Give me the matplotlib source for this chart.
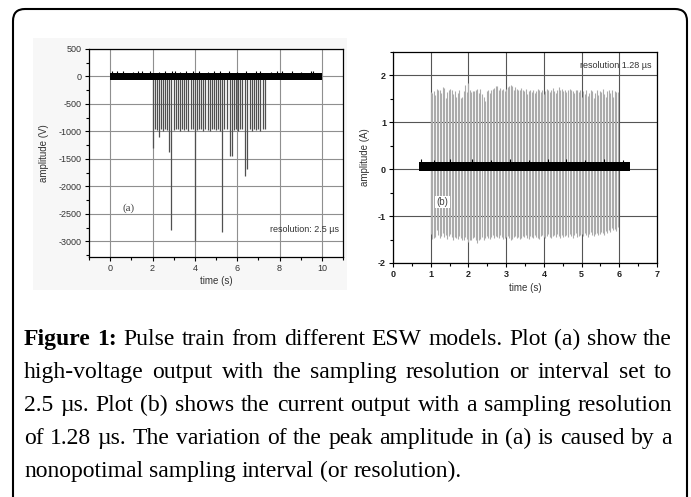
import numpy as np
import matplotlib.pyplot as plt
from matplotlib.patches import FancyBboxPatch, Rectangle
from matplotlib.ticker import MultipleLocator

plt.rcParams['axes.unicode_minus'] = False

# Plot (a): high-voltage pulse train (times in s, peak amplitude in V)
pulse_times_a = [2.00, 2.10, 2.20, 2.30, 2.40, 2.50, 2.60, 2.70, 2.78, 2.88,
                 3.00, 3.10, 3.20, 3.30, 3.40, 3.50, 3.60, 3.70, 3.80, 3.90,
                 4.01, 4.10, 4.20, 4.30, 4.40, 4.50, 4.60, 4.70, 4.80, 4.90,
                 5.00, 5.10, 5.18, 5.27, 5.40, 5.50, 5.66, 5.74, 5.85, 5.95,
                 6.05, 6.15, 6.25, 6.37, 6.48, 6.60, 6.70, 6.80, 6.90, 7.00,
                 7.10, 7.20, 7.30]
pulse_peaks_a = [-1300, -960, -980, -1100, -960, -990, -950, -970, -1380, -2800,
                 -980, -950, -960, -990, -950, -970, -960, -990, -950, -960,
                 -3000, -970, -950, -960, -990, -960, -980, -990, -960, -950,
                 -980, -960, -990, -2830, -960, -950, -1450, -1450, -970, -960,
                 -990, -950, -960, -1820, -1680, -960, -990, -950, -970, -960,
                 -990, -950, -960]
noise_span_a = [0, 10]
noise_band_a = [-60, 60]
spike_times_a = [0.1, 0.3, 0.6, 1.1, 1.3, 1.5, 1.9, 2.3, 2.6, 2.9, 3.05, 3.3,
                 3.6, 3.9, 4.2, 4.6, 4.9, 5.2, 5.6, 6.0, 6.4, 6.9, 7.1, 7.6,
                 7.9, 8.1, 8.6, 9.0, 9.5, 9.6]
spike_tops_a = [100, 95, 100, 90, 100, 95, 100, 90, 100, 95, 100, 90,
                100, 95, 100, 90, 100, 95, 100, 90, 100, 95, 100, 90,
                100, 95, 100, 90, 100, 95]

# Plot (b): current pulse train (times in s, amplitude in A)
pulse_times_b = [1.00, 1.04, 1.08, 1.12, 1.16, 1.20, 1.24, 1.28, 1.32, 1.36,
                 1.40, 1.44, 1.48, 1.52, 1.56, 1.60, 1.64, 1.68, 1.72, 1.76,
                 1.80, 1.84, 1.88, 1.92, 1.96, 2.00, 2.04, 2.08, 2.12, 2.16,
                 2.20, 2.24, 2.28, 2.32, 2.36, 2.40, 2.44, 2.48, 2.52, 2.56,
                 2.60, 2.64, 2.68, 2.72, 2.76, 2.80, 2.84, 2.88, 2.92, 2.96,
                 3.00, 3.04, 3.08, 3.12, 3.16, 3.20, 3.24, 3.28, 3.32, 3.36,
                 3.40, 3.44, 3.48, 3.52, 3.56, 3.60, 3.64, 3.68, 3.72, 3.76,
                 3.80, 3.84, 3.88, 3.92, 3.96, 4.00, 4.04, 4.08, 4.12, 4.16,
                 4.20, 4.24, 4.28, 4.32, 4.36, 4.40, 4.44, 4.48, 4.52, 4.56,
                 4.60, 4.64, 4.68, 4.72, 4.76, 4.80, 4.84, 4.88, 4.92, 4.96,
                 5.00, 5.04, 5.08, 5.12, 5.16, 5.20, 5.24, 5.28, 5.32, 5.36,
                 5.40, 5.44, 5.48, 5.52, 5.56, 5.60, 5.64, 5.68, 5.72, 5.76,
                 5.80, 5.84, 5.88, 5.92, 5.96]
pulse_pos_b = [1.64, 1.63, 1.66, 1.58, 1.72, 1.70, 1.68, 1.62, 1.76, 1.73,
               1.52, 1.64, 1.70, 1.71, 1.68, 1.60, 1.66, 1.55, 1.62, 1.68,
               1.51, 1.55, 1.66, 1.80, 1.65, 1.84, 1.70, 1.64, 1.66, 1.67,
               1.70, 1.72, 1.62, 1.71, 1.60, 1.55, 1.45, 1.66, 1.68, 1.62,
               1.70, 1.71, 1.74, 1.78, 1.78, 1.70, 1.73, 1.68, 1.71, 1.66,
               1.72, 1.76, 1.78, 1.79, 1.77, 1.70, 1.75, 1.72, 1.68, 1.70,
               1.74, 1.70, 1.66, 1.72, 1.60, 1.66, 1.70, 1.64, 1.68, 1.62,
               1.66, 1.72, 1.70, 1.64, 1.68, 1.60, 1.66, 1.72, 1.70, 1.64,
               1.68, 1.74, 1.66, 1.62, 1.70, 1.75, 1.68, 1.72, 1.66, 1.70,
               1.64, 1.68, 1.72, 1.70, 1.66, 1.62, 1.70, 1.68, 1.64, 1.70,
               1.55, 1.66, 1.60, 1.68, 1.56, 1.62, 1.70, 1.66, 1.52, 1.62,
               1.70, 1.58, 1.66, 1.64, 1.72, 1.60, 1.55, 1.66, 1.70, 1.62,
               1.68, 1.55, 1.66, 1.64, 1.65]
pulse_neg_b = [-1.38, -1.48, -1.46, -1.44, -1.30, -1.40, -1.46, -1.42, -1.36, -1.44,
               -1.40, -1.48, -1.42, -1.38, -1.45, -1.50, -1.44, -1.46, -1.48, -1.42,
               -1.46, -1.50, -1.52, -1.44, -1.48, -1.56, -1.50, -1.52, -1.46, -1.44,
               -1.50, -1.57, -1.52, -1.48, -1.44, -1.50, -1.46, -1.42, -1.46, -1.48,
               -1.44, -1.40, -1.46, -1.42, -1.44, -1.46, -1.40, -1.44, -1.48, -1.46,
               -1.44, -1.42, -1.46, -1.50, -1.48, -1.44, -1.42, -1.46, -1.44, -1.48,
               -1.46, -1.42, -1.44, -1.40, -1.46, -1.48, -1.42, -1.44, -1.46, -1.40,
               -1.44, -1.46, -1.48, -1.42, -1.40, -1.44, -1.46, -1.42, -1.38, -1.44,
               -1.46, -1.42, -1.40, -1.44, -1.38, -1.42, -1.46, -1.40, -1.44, -1.42,
               -1.40, -1.44, -1.38, -1.42, -1.46, -1.40, -1.36, -1.44, -1.42, -1.40,
               -1.38, -1.42, -1.36, -1.40, -1.44, -1.38, -1.34, -1.40, -1.42, -1.38,
               -1.36, -1.40, -1.38, -1.34, -1.36, -1.40, -1.32, -1.36, -1.30, -1.34,
               -1.26, -1.30, -1.28, -1.32, -1.24]
noise_span_b = [0.68, 6.28]
noise_band_b = [-0.03, 0.16]
spike_times_b = [0.75, 1.1, 1.5, 2.1, 2.6, 3.1, 3.6, 4.1, 4.6, 5.1, 5.6, 6.1]
spike_tops_b = [0.21, 0.20, 0.21, 0.22, 0.20, 0.21, 0.20, 0.21, 0.22, 0.20, 0.21, 0.20]

caption_lines = [
    "Figure 1: Pulse train from different ESW models. Plot (a) show the",
    "high-voltage output with the sampling resolution or interval set to",
    "2.5 \u00b5s. Plot (b) shows the current output with a sampling resolution",
    "of 1.28 \u00b5s. The variation of the peak amplitude in (a) is caused by a",
    "nonopotimal sampling interval (or resolution).",
]

W, H = 691, 497
fig = plt.figure(figsize=(W / 100, H / 100), dpi=100)

# background in pixel units: rounded frame, caption
bg = fig.add_axes([0, 0, 1, 1])
bg.set_xlim(0, W)
bg.set_ylim(H, 0)
bg.axis('off')
bg.add_patch(FancyBboxPatch((13, 9), 674, 520, boxstyle="round,pad=0,rounding_size=12",
                            fc='white', ec='black', lw=1.5, clip_on=False))
bg.add_patch(Rectangle((33, 38), 314, 252, fc='#f7f7f7', ec='none'))


def px_axes(l, t, r, b):
    return fig.add_axes([l / W, 1 - b / H, (r - l) / W, (b - t) / H])


sans = 'Liberation Sans'

# ---- plot (a)
axA = px_axes(89, 49, 343, 257)
axA.set_facecolor('white')
axA.grid(True, color='#8f8f8f', lw=0.8)
axA.vlines(pulse_times_a, 0, pulse_peaks_a, color='#505050', lw=0.9, zorder=2)
axA.fill_between(noise_span_a, noise_band_a[0], noise_band_a[1], color='black', lw=0, zorder=3)
axA.vlines(spike_times_a, 0, spike_tops_a, color='black', lw=0.8, zorder=3)
axA.set_xlim(-1, 11)
axA.set_ylim(-3285, 500)
axA.xaxis.set_major_locator(MultipleLocator(2))
axA.xaxis.set_minor_locator(MultipleLocator(1))
axA.yaxis.set_major_locator(MultipleLocator(500))
axA.yaxis.set_minor_locator(MultipleLocator(250))
axA.tick_params(which='both', direction='out', top=False, right=False,
                labelsize=6.5, labelcolor='#333333', width=0.8, pad=2)
axA.tick_params(which='major', length=3)
axA.tick_params(which='minor', length=2)
for lab in axA.get_xticklabels() + axA.get_yticklabels():
    lab.set_family(sans)
for s in axA.spines.values():
    s.set_linewidth(0.9)
axA.set_xlabel('time (s)', fontsize=7, family=sans, color='#333333', labelpad=2)
axA.set_ylabel('amplitude (V)', fontsize=7, family=sans, color='#333333', labelpad=7)
axA.text(0.6, -2400, '(a)', fontsize=8, family='Liberation Serif', color='#444444', va='center')
axA.text(10.8, -2780, 'resolution: 2.5 \u00b5s', fontsize=6.5, family=sans, color='#333333',
         ha='right', va='center')

# ---- plot (b)
axB = px_axes(393, 52, 657, 263)
axB.grid(True, color='#555555', lw=0.8)
axB.vlines(pulse_times_b, pulse_neg_b, pulse_pos_b, color='#ababab', lw=0.8, zorder=2)
axB.fill_between(noise_span_b, noise_band_b[0], noise_band_b[1], color='black', lw=0, zorder=3)
axB.vlines(spike_times_b, 0, spike_tops_b, color='black', lw=0.8, zorder=3)
axB.set_xlim(0, 7)
axB.set_ylim(-2, 2.5)
axB.xaxis.set_major_locator(MultipleLocator(1))
axB.xaxis.set_minor_locator(MultipleLocator(0.5))
axB.yaxis.set_major_locator(MultipleLocator(1))
axB.yaxis.set_minor_locator(MultipleLocator(0.5))
axB.tick_params(which='both', direction='out', top=False, right=False,
                labelsize=6.5, labelcolor='#222222', width=0.8, pad=2)
axB.tick_params(which='major', length=3)
axB.tick_params(which='minor', length=2)
for lab in axB.get_xticklabels() + axB.get_yticklabels():
    lab.set_family(sans)
    lab.set_fontweight('bold')
for s in axB.spines.values():
    s.set_linewidth(0.9)
axB.set_xlabel('time (s)', fontsize=7, family=sans, color='#333333', labelpad=3)
axB.set_ylabel('amplitude (A)', fontsize=7, family=sans, color='#333333', labelpad=6)
axB.text(1.32, -0.70, '(b)', fontsize=7, family=sans, color='#444444', va='center', ha='center',
         bbox=dict(fc='white', ec='none', pad=1))
axB.text(6.85, 2.22, 'resolution 1.28 \u00b5s', fontsize=6.5, family=sans, color='#333333',
         ha='right', va='center')

# ---- justified caption
cap_size = 17
left, right = 24, 672
baselines = [345, 378, 411, 444, 477]
fig.canvas.draw()
rend = fig.canvas.get_renderer()
space = cap_size * 100 / 72 * 0.25
for i, line in enumerate(caption_lines):
    words = line.split(' ')
    texts = []
    for j, w in enumerate(words):
        weight = 'bold' if (i == 0 and j < 2) else 'normal'
        t = bg.text(0, baselines[i], w, fontsize=cap_size, family='Liberation Serif',
                    fontweight=weight, va='baseline', ha='left', color='black')
        texts.append(t)
    widths = [t.get_window_extent(rend).width for t in texts]
    if i < len(caption_lines) - 1:
        gap = (right - left - sum(widths)) / (len(words) - 1)
    else:
        gap = space
    x = left
    for t, w in zip(texts, widths):
        t.set_x(x)
        x += w + gap

fig.savefig('out.png', dpi=100)
